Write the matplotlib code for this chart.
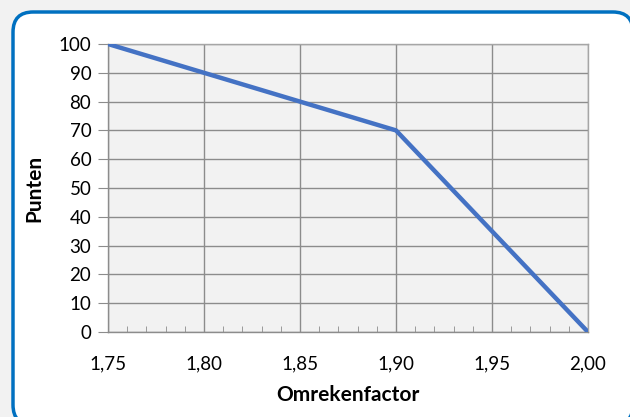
import matplotlib
matplotlib.use('Agg')
import matplotlib.pyplot as plt
from matplotlib.patches import FancyBboxPatch
from matplotlib.ticker import MultipleLocator, FuncFormatter

# data
omrekenfactor = [1.75, 1.80, 1.85, 1.90, 1.95, 2.00]
punten = [100, 90, 80, 70, 35, 0]

plt.rcParams['font.family'] = ['Lato', 'DejaVu Sans']

fig = plt.figure(figsize=(6.3, 4.17), dpi=100)
fig.patch.set_facecolor('#f2f2f2')

# rounded chart frame, runs just past the right and bottom edge
frame = FancyBboxPatch((13/630, -8/417), 620/630, 413/417,
                       boxstyle="round,pad=0,rounding_size=0.032",
                       mutation_aspect=630/417,
                       transform=fig.transFigure, facecolor='white',
                       edgecolor='#0070c0', linewidth=2.5, zorder=0)
fig.patches.append(frame)

ax = fig.add_axes([108/630, 85/417, 480/630, 288/417])
ax.set_zorder(2)
ax.set_facecolor('#f2f2f2')
ax.plot(omrekenfactor, punten, color='#4472c4', linewidth=3.2, solid_capstyle='butt', zorder=3)

ax.set_xlim(1.75, 2.00)
ax.set_ylim(0, 100)
ax.xaxis.set_major_locator(MultipleLocator(0.05))
ax.xaxis.set_minor_locator(MultipleLocator(0.01))
ax.yaxis.set_major_locator(MultipleLocator(10))
ax.xaxis.set_major_formatter(FuncFormatter(lambda v, p: ('%.2f' % v).replace('.', ',')))

ax.grid(True, which='major', color='#8c8c8c', linewidth=1.0)
for s in ['top', 'right']:
    ax.spines[s].set_color('#a6a6a6')
for s in ['left', 'bottom']:
    ax.spines[s].set_color('#8c8c8c')
for s in ax.spines.values():
    s.set_linewidth(1.0)

ax.tick_params(axis='y', which='major', length=7, direction='out', color='#8c8c8c',
               labelsize=13.5, pad=5)
ax.tick_params(axis='x', which='major', length=0, labelsize=13.5, pad=17)
ax.tick_params(axis='x', which='minor', length=4, direction='in', color='#8c8c8c')

ax.set_xlabel('Omrekenfactor', fontsize=15, fontweight='bold', labelpad=9)
ax.set_ylabel('Punten', fontsize=15, fontweight='bold', labelpad=10)

fig.savefig('out.png', dpi=100, facecolor=fig.get_facecolor())
